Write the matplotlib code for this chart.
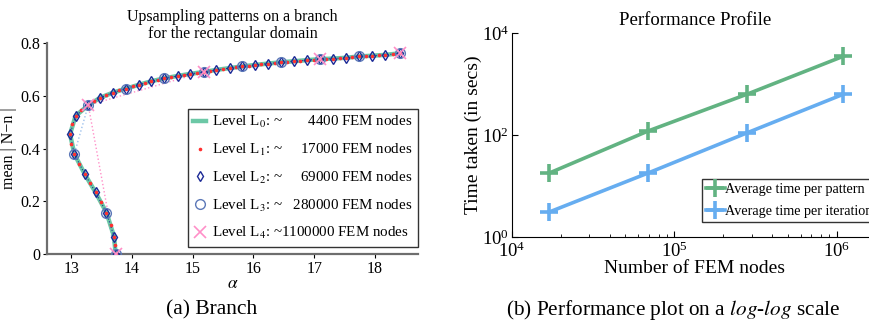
import matplotlib
matplotlib.use("Agg")
import matplotlib.pyplot as plt
from matplotlib.lines import Line2D

plt.rcParams.update({
    "font.family": ["Liberation Serif", "DejaVu Serif"],
    "mathtext.fontset": "stix",
    "axes.unicode_minus": True,
})

# ---- branch data (alpha, mean|N-n|) per refinement level
l2_alpha = [13.73, 13.705, 13.58, 13.40, 13.22, 13.05, 12.98, 13.07, 13.28, 13.48, 13.69,
            13.90, 14.12, 14.32, 14.53, 14.75, 14.96, 15.18, 15.39, 15.61, 15.81, 16.03,
            16.24, 16.46, 16.67, 16.88, 17.10, 17.31, 17.52, 17.74, 17.96, 18.17, 18.41]
l2_mean = [0.000, 0.066, 0.157, 0.234, 0.304, 0.380, 0.455, 0.524, 0.565, 0.594, 0.613,
           0.628, 0.643, 0.656, 0.667, 0.676, 0.684, 0.691, 0.699, 0.706, 0.712, 0.718,
           0.723, 0.728, 0.732, 0.736, 0.740, 0.742, 0.745, 0.750, 0.753, 0.756, 0.762]

l0_alpha = l2_alpha
l0_mean = l2_mean

l1_alpha = [13.73, 13.72, 13.705, 13.65, 13.58, 13.49, 13.40, 13.31, 13.22, 13.13, 13.05,
            13.00, 12.98, 13.01, 13.07, 13.16, 13.28, 13.38, 13.48, 13.58, 13.69, 13.79,
            13.90, 14.01, 14.12, 14.22, 14.32, 14.42, 14.53, 14.64, 14.75, 14.85, 14.96,
            15.07, 15.18, 15.28, 15.39, 15.50, 15.61, 15.71, 15.81, 15.92, 16.03, 16.13,
            16.24, 16.35, 16.46, 16.56, 16.67, 16.77, 16.88, 16.99, 17.10, 17.20, 17.31,
            17.42, 17.52, 17.63, 17.74, 17.85, 17.96, 18.07, 18.17, 18.29, 18.41]
l1_mean = [0.000, 0.033, 0.066, 0.112, 0.157, 0.196, 0.234, 0.269, 0.304, 0.342, 0.380,
           0.418, 0.455, 0.492, 0.524, 0.548, 0.565, 0.580, 0.594, 0.604, 0.613, 0.621,
           0.628, 0.636, 0.643, 0.650, 0.656, 0.662, 0.667, 0.672, 0.676, 0.680, 0.684,
           0.688, 0.691, 0.695, 0.699, 0.703, 0.706, 0.709, 0.712, 0.715, 0.718, 0.721,
           0.723, 0.726, 0.728, 0.730, 0.732, 0.734, 0.736, 0.738, 0.740, 0.741, 0.742,
           0.744, 0.745, 0.748, 0.750, 0.752, 0.753, 0.755, 0.756, 0.759, 0.762]

l3_alpha = [13.73, 13.58, 13.05, 13.28, 13.90, 14.53, 15.18, 15.81, 16.46, 17.10, 17.74, 18.41]
l3_mean = [0.000, 0.157, 0.380, 0.565, 0.628, 0.667, 0.691, 0.712, 0.728, 0.740, 0.750, 0.762]

l4_alpha = [13.73, 13.28, 15.18, 17.10, 18.41]
l4_mean = [0.000, 0.565, 0.691, 0.740, 0.762]

level_nodes = ["4400", "17000", "69000", "280000", "1100000"]

# ---- timing data
fem_nodes = [17000, 69000, 280000, 1100000]
t_pattern = [18, 120, 630, 3500]
t_iteration = [3.1, 18, 110, 630]

C_L0 = "#6cc8a6"; C_L1 = "#ff3030"; C_L2 = "#1c2a96"; C_L3 = "#5c78b8"; C_L4 = "#ff8fc8"
C_PAT = "#62b382"; C_IT = "#66adf0"

fig = plt.figure(figsize=(8.7, 3.27), dpi=100)

# ---------------- (a) branch
ax = fig.add_axes([0.054, 0.2232, 0.4265, 0.6444])
ax.plot(l4_alpha, l4_mean, ":", color=C_L4, lw=1.0, zorder=1)
ax.plot(l3_alpha, l3_mean, ":", color="#9cc0ec", lw=1.0, zorder=1)
ax.plot(l0_alpha, l0_mean, "-", color=C_L0, lw=3.2, zorder=2)
ax.plot(l2_alpha, l2_mean, ":", color=C_L2, lw=0.8, zorder=3)
ax.plot(l1_alpha, l1_mean, ".", color=C_L1, ms=3.2, zorder=4)
ax.plot(l2_alpha, l2_mean, "d", mfc="none", mec=C_L2, ms=5, mew=1.0, zorder=5)
ax.plot(l3_alpha, l3_mean, "o", mfc="none", mec=C_L3, ms=7, mew=1.0, zorder=6)
ax.plot(l4_alpha, l4_mean, "x", color=C_L4, ms=9, mew=1.2, zorder=7)

ax.set_xlim(12.6, 18.71)
ax.set_ylim(0, 0.8)
ax.set_xticks([13, 14, 15, 16, 17, 18])
ax.set_yticks([0, 0.2, 0.4, 0.6, 0.8])
ax.set_yticklabels(["0", "0.2", "0.4", "0.6", "0.8"])
for s in ("top", "right"):
    ax.spines[s].set_visible(False)
for s in ("left", "bottom"):
    ax.spines[s].set_color("#6e6e6e")
    ax.spines[s].set_linewidth(1.6)
ax.tick_params(labelsize=11.5, length=3, direction="out", pad=2)
ax.set_xlabel(r"$\alpha$", fontsize=12.5, labelpad=-1)
ax.set_ylabel("mean | N\u2212n |", fontsize=11.5, labelpad=2)
ax.set_title("Upsampling patterns on a branch\nfor the rectangular domain",
             fontsize=11.5, pad=4, linespacing=1.1)

handles = [
    Line2D([], [], color=C_L0, lw=3.2),
    Line2D([], [], ls="none", marker=".", color=C_L1, ms=3.2),
    Line2D([], [], ls="none", marker="d", mfc="none", mec=C_L2, ms=5, mew=1.0),
    Line2D([], [], ls="none", marker="o", mfc="none", mec=C_L3, ms=7, mew=1.0),
    Line2D([], [], ls="none", marker="x", color=C_L4, ms=9, mew=1.2),
]
labels = []
for i, n in enumerate(level_nodes):
    pad = "\u2007" * (7 - len(n))
    gap = " " if len(n) < 7 else ""
    labels.append(f"Level L$_{i}$: ~{gap}{pad}{n} FEM nodes")
leg = ax.legend(handles, labels, loc="lower right", bbox_to_anchor=(1.0, 0.035),
                fontsize=10.8, frameon=True, fancybox=False, edgecolor="black",
                handlelength=0.9, handletextpad=0.4, borderpad=0.35, labelspacing=0.78,
                borderaxespad=0)
leg.get_frame().set_linewidth(1.0)

# ---------------- (b) performance profile
bx = fig.add_axes([0.5885, 0.2752, 0.4207, 0.6238])
bx.plot(fem_nodes, t_pattern, "-+", color=C_PAT, lw=2.6, ms=13, mew=2.6,
        label="Average time per pattern")
bx.plot(fem_nodes, t_iteration, "-+", color=C_IT, lw=2.6, ms=13, mew=2.6,
        label="Average time per iteration")
bx.set_xscale("log"); bx.set_yscale("log")
bx.set_xlim(1e4, 1.8e6)
bx.set_ylim(1, 1e4)
bx.set_yticks([1, 1e2, 1e4])
bx.yaxis.set_minor_locator(matplotlib.ticker.NullLocator())
for s in ("top", "right"):
    bx.spines[s].set_visible(False)
bx.tick_params(which="both", direction="in", labelsize=13.5)
bx.tick_params(which="major", length=4)
bx.tick_params(which="minor", length=2.5)
bx.tick_params(axis="y", pad=2)
bx.set_xlabel("Number of FEM nodes", fontsize=14, labelpad=-1)
bx.set_ylabel("Time taken (in secs)", fontsize=14, labelpad=0)
bx.set_title("Performance Profile", fontsize=13.5, pad=6)
leg2 = bx.legend(loc="upper left", bbox_to_anchor=(702 / 870, 1 - 179 / 327),
                 bbox_transform=fig.transFigure, fontsize=10.2, frameon=True,
                 fancybox=False, edgecolor="black", handlelength=1.3,
                 handletextpad=0.0, borderpad=0.3, labelspacing=0.6, borderaxespad=0)
leg2.get_frame().set_linewidth(1.0)

fig.text(212 / 870, 1 - 310 / 327, "(a) Branch", ha="center", va="center", fontsize=15.5)
fig.text(673 / 870, 1 - 310 / 327, "(b) Performance plot on a $\\mathit{log}$-$\\mathit{log}$ scale",
         ha="center", va="center", fontsize=15.3)

fig.savefig("out.png", dpi=100)
